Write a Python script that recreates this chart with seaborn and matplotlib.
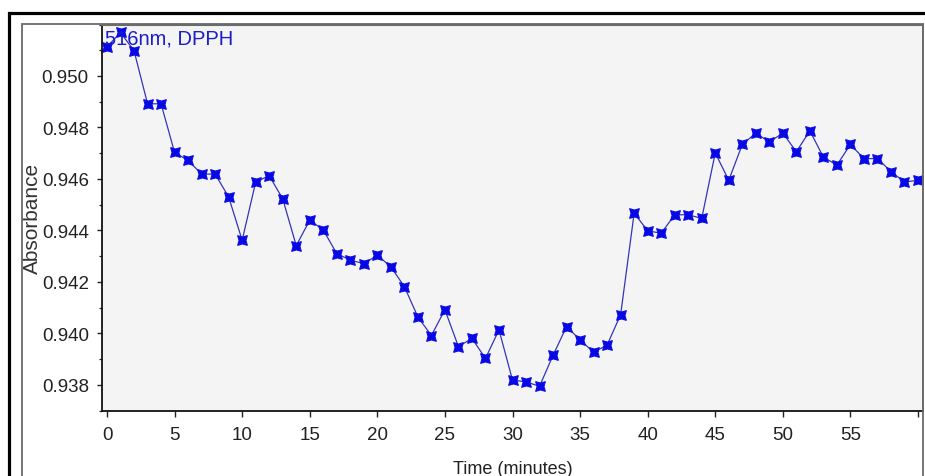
import numpy as np
import pandas as pd
import matplotlib
matplotlib.use("Agg")
import matplotlib.pyplot as plt
from matplotlib.patches import Rectangle
import seaborn as sns

# Absorbance readings at 516 nm, one per minute
time_min = list(range(0, 61))
absorbance = [
    0.95113, 0.95169, 0.95098, 0.94892, 0.94892, 0.94703, 0.94672, 0.94619,
    0.94619, 0.94530, 0.94362, 0.94588, 0.94613, 0.94523, 0.94341, 0.94440,
    0.94402, 0.94310, 0.94285, 0.94271, 0.94304, 0.94259, 0.94182, 0.94064,
    0.93992, 0.94092, 0.93949, 0.93981, 0.93903, 0.94014, 0.93819, 0.93812,
    0.93795, 0.93915, 0.94027, 0.93975, 0.93927, 0.93955, 0.94073, 0.94467,
    0.94399, 0.94389, 0.94461, 0.94461, 0.94447, 0.94701, 0.94595, 0.94734,
    0.94778, 0.94744, 0.94778, 0.94706, 0.94787, 0.94685, 0.94654, 0.94734,
    0.94679, 0.94679, 0.94629, 0.94588, 0.94595,
]
x_ticks = list(range(0, 61, 5))
x_tick_labels = [str(t) for t in range(0, 60, 5)] + [""]
y_ticks = [0.938, 0.940, 0.942, 0.944, 0.946, 0.948, 0.950]
y_tick_labels = ["%.3f" % v for v in y_ticks]

df = pd.DataFrame({"Time": time_min, "Absorbance": absorbance})

sns.set_style("ticks")
plt.rcParams["font.family"] = ["Liberation Sans", "DejaVu Sans"]

W, H = 925, 477
fig = plt.figure(figsize=(W / 100, H / 100), dpi=100)
fig.patch.set_facecolor("white")

# plot area in pixel terms
left, right, top, bottom = 102, 923, 25.5, 411.7
ax = fig.add_axes([left / W, 1 - bottom / H, (right - left) / W, (bottom - top) / H])
ax.set_facecolor("#f4f4f4")

sns.lineplot(data=df, x="Time", y="Absorbance", ax=ax, color="#3434b8", linewidth=0.9,
             marker=(4, 1, 45), markersize=10, markerfacecolor="#0808e6",
             markeredgecolor="#0808e6", markeredgewidth=0.7)

ax.set_xlim(-0.37, 60.37)
ax.set_ylim(0.93754, 0.95194)
ax.set_xticks(x_ticks)
ax.set_xticklabels(x_tick_labels)
ax.set_yticks(y_ticks)
ax.set_yticklabels(y_tick_labels)
ax.set_yticks(np.arange(0.937, 0.9525, 0.001), minor=True)

ax.tick_params(axis="both", which="major", labelsize=13.5, colors="#222222", width=1.0)
ax.tick_params(axis="x", which="major", length=4, pad=7)
ax.tick_params(axis="y", which="major", length=3.5, pad=6)
ax.tick_params(axis="y", which="minor", length=2.5, width=0.9, colors="#222222")

ax.set_xlabel("Time (minutes)", fontsize=13, color="#222222", labelpad=12)
ax.set_ylabel("Absorbance", fontsize=15, color="#333333")
ax.yaxis.set_label_coords((42 - left) / (right - left), 0.5)

for side in ["left", "bottom"]:
    ax.spines[side].set_color("#111111")
    ax.spines[side].set_linewidth(1.3)
ax.spines["top"].set_color("#6a6a6a")
ax.spines["top"].set_linewidth(1.5)
ax.spines["right"].set_color("#6a6a6a")
ax.spines["right"].set_linewidth(1.2)

ax.text(0.004, 0.99, "516nm, DPPH", transform=ax.transAxes, ha="left", va="top",
        fontsize=14.5, color="#1c1cc8")

# outer black frame and inner grey frame of the screenshot
fig.add_artist(Rectangle((8.5 / W, -0.2), 1.2, 1.2 - 14 / H, transform=fig.transFigure,
                         fill=False, edgecolor="black", linewidth=2.3))
fig.add_artist(Rectangle((22 / W, -0.2), (923 - 22) / W, 1.2 - 25 / H, transform=fig.transFigure,
                         fill=False, edgecolor="#6a6a6a", linewidth=1.3))

fig.savefig("out.png", dpi=100)
